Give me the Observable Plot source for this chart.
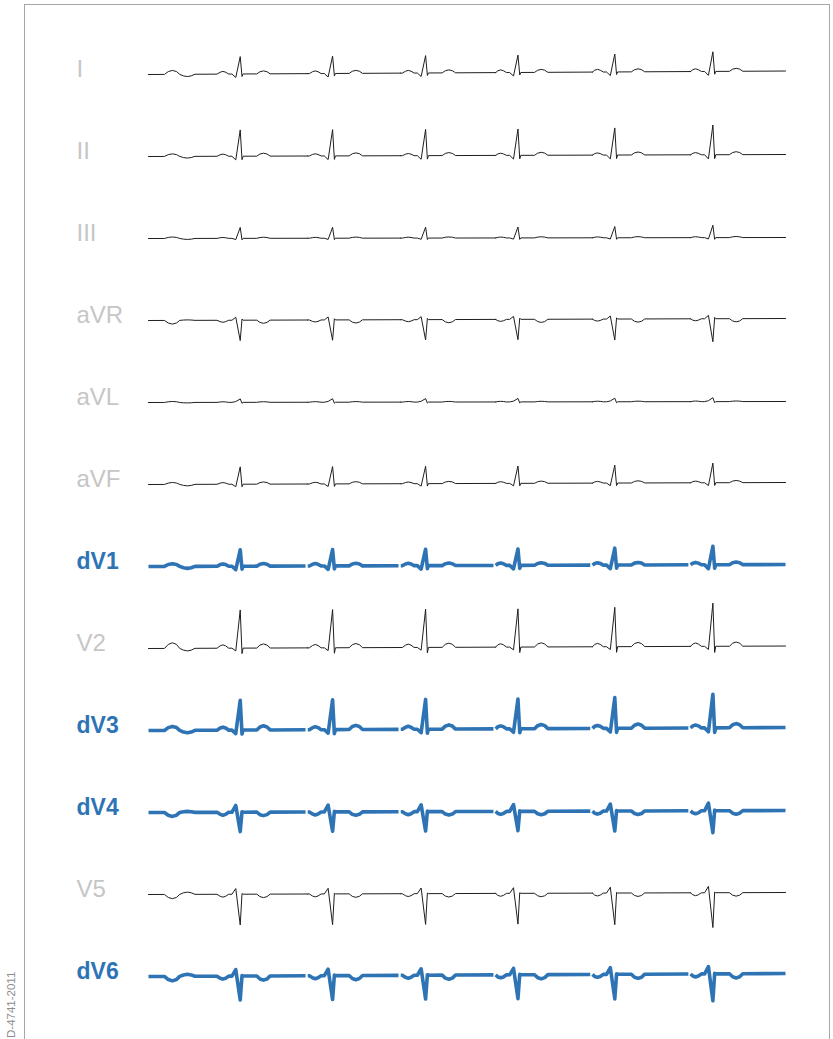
<!DOCTYPE html>
<html><head><meta charset="utf-8">
<script src="https://cdn.jsdelivr.net/npm/d3@7"></script>
<script src="https://cdn.jsdelivr.net/npm/@observablehq/plot@0.6"></script>
<style>
html,body{margin:0;padding:0;overflow:hidden;background:#fff;width:833px;height:1039px;}
#frame{position:absolute;left:24px;top:4px;width:806px;height:1100px;border:1.5px solid #a6a6a6;box-sizing:border-box;}
#chart{position:absolute;left:0;top:0;}
#code{position:absolute;left:5px;top:1038px;transform-origin:0 0;transform:rotate(-90deg);font:11.5px "Liberation Sans",Arial,sans-serif;color:#8c8c8c;white-space:nowrap;line-height:12px;}
</style></head><body>
<div id="frame"></div>
<div id="chart"></div>
<div id="code">D-4741-2011</div>
<script>
// Leads (top to bottom) and which ones are derived (highlighted)
const leads   = ["I","II","III","aVR","aVL","aVF","dV1","V2","dV3","dV4","V5","dV6"];
const derived = ["dV1","dV3","dV4","dV6"];

// Beat timing (seconds)
const rTimes    = [1.44, 2.89, 4.35, 5.80, 7.32, 8.86];
const segStarts = [0, 2.50, 3.96, 5.45, 6.97, 8.51];
const traceEnd  = 10;
const beatGain  = [1, 1, 1, 1, 1.03, 1.13];

// Wave amplitudes per lead (mV)
const pAmp  = [0.27, 0.22, 0.09, -0.20, 0.06, 0.17, 0.24, 0.34, 0.30, -0.30, -0.29, -0.30];
const qAmp  = [-0.35,-0.37,-0.12, 0.30, 0.08,-0.25,-0.35,-0.28,-0.35, 0.68, 0.57, 0.65];
const rAmp  = [1.75, 2.65, 1.10,-2.05, 0.35, 1.75, 1.65, 3.85, 3.00,-1.95,-3.10,-2.40];
const sAmp  = [-0.25,-0.35,-0.15, 0.12,-0.10,-0.25,-0.30,-0.55,-0.40, 0.05, 0.06, 0.05];
const tAmp  = [0.30, 0.30, 0.11,-0.32, 0.06, 0.22, 0.26, 0.42, 0.42,-0.35,-0.35,-0.42];
const init1 = [0.40, 0.26, 0.15,-0.37, 0.10, 0.20, 0.28, 0.57, 0.40,-0.40,-0.43,-0.45];
const init2 = [-0.23,-0.17,-0.10, 0.05,-0.05,-0.15,-0.20,-0.26,-0.25, 0.10, 0.23, 0.20];
const drift = [0.35, 0.20, 0.10, 0.20, 0.10, 0.20, 0.20, 0.25, 0.30, 0.20, 0.20, 0.30];

// Wave shapes (offsets relative to R peak, seconds)
const pOffsets   = [-0.365, -0.315, -0.272, -0.229, -0.18];
const pShape     = [0, 0.7, 1, 0.7, 0];
const tOffsets   = [0.26, 0.31, 0.365, 0.42, 0.47];
const tShape     = [0, 0.72, 1, 0.72, 0];
const initOffsets = [0.25, 0.31, 0.375, 0.44, 0.49, 0.55, 0.61, 0.67, 0.73];
const initShape   = [0, 0.7, 1, 0.7, 0, 0.7, 1, 0.7, 0];

const rows = [];
leads.forEach((lead, i) => {
  const gap = derived.includes(lead) ? 0.035 : 0;
  rTimes.forEach((r, k) => {
    const s = segStarts[k];
    const e = k < rTimes.length - 1 ? segStarts[k + 1] - gap : traceEnd;
    const g = beatGain[k];
    const pts = [[s, 0]];
    if (k === 0) initOffsets.forEach((o, j) => pts.push([s + o, initShape[j] * (j < 5 ? init1[i] : init2[i])]));
    pOffsets.forEach((o, j) => pts.push([Math.max(s, r + o), pShape[j] * pAmp[i]]));
    pts.push([r - 0.13, 0], [r - 0.07, qAmp[i] * g], [r, rAmp[i] * g], [r + 0.028, sAmp[i] * g], [r + 0.045, 0]);
    tOffsets.forEach((o, j) => pts.push([r + o, tShape[j] * tAmp[i]]));
    pts.push([e, 0]);
    pts.forEach(([t, v], j) => rows.push({lead, seg: lead + "-" + k, t, v: v + drift[i] * t / traceEnd, first: k === 0 && j === 0}));
  });
});

const isD = d => derived.includes(d.lead);
const font = "'Liberation Sans', Arial, Helvetica, sans-serif";

const chart = Plot.plot({
  width: 833, height: 1039,
  marginTop: 29.2, marginBottom: 18.6, marginLeft: 148, marginRight: 48,
  facet: {data: rows, y: "lead", margin: 0},
  fy: {domain: leads, padding: 0, axis: null},
  x: {domain: [0, traceEnd], axis: null},
  y: {domain: [-4.13, 4.13], axis: null},
  style: {background: "none", fontFamily: font},
  marks: [
    Plot.line(rows, {filter: d => !isD(d), x: "t", y: "v", z: "seg", stroke: "#1e1e1e", strokeWidth: 1}),
    Plot.line(rows, {filter: d => isD(d), x: "t", y: "v", z: "seg", stroke: "#2e74b5", strokeWidth: 3.6, strokeLinecap: "butt", strokeLinejoin: "round"}),
    Plot.text(rows, {filter: d => d.first && !isD(d), text: "lead", frameAnchor: "left", textAnchor: "start", dx: -72, dy: -5, fill: "#c6c6c6", fontSize: 24, fontFamily: font}),
    Plot.text(rows, {filter: d => d.first && isD(d), text: "lead", frameAnchor: "left", textAnchor: "start", dx: -72, dy: -5, fill: "#2e74b5", fontSize: 23, fontWeight: "bold", fontFamily: font})
  ]
});
document.getElementById("chart").appendChild(chart);
</script>
</body></html>
